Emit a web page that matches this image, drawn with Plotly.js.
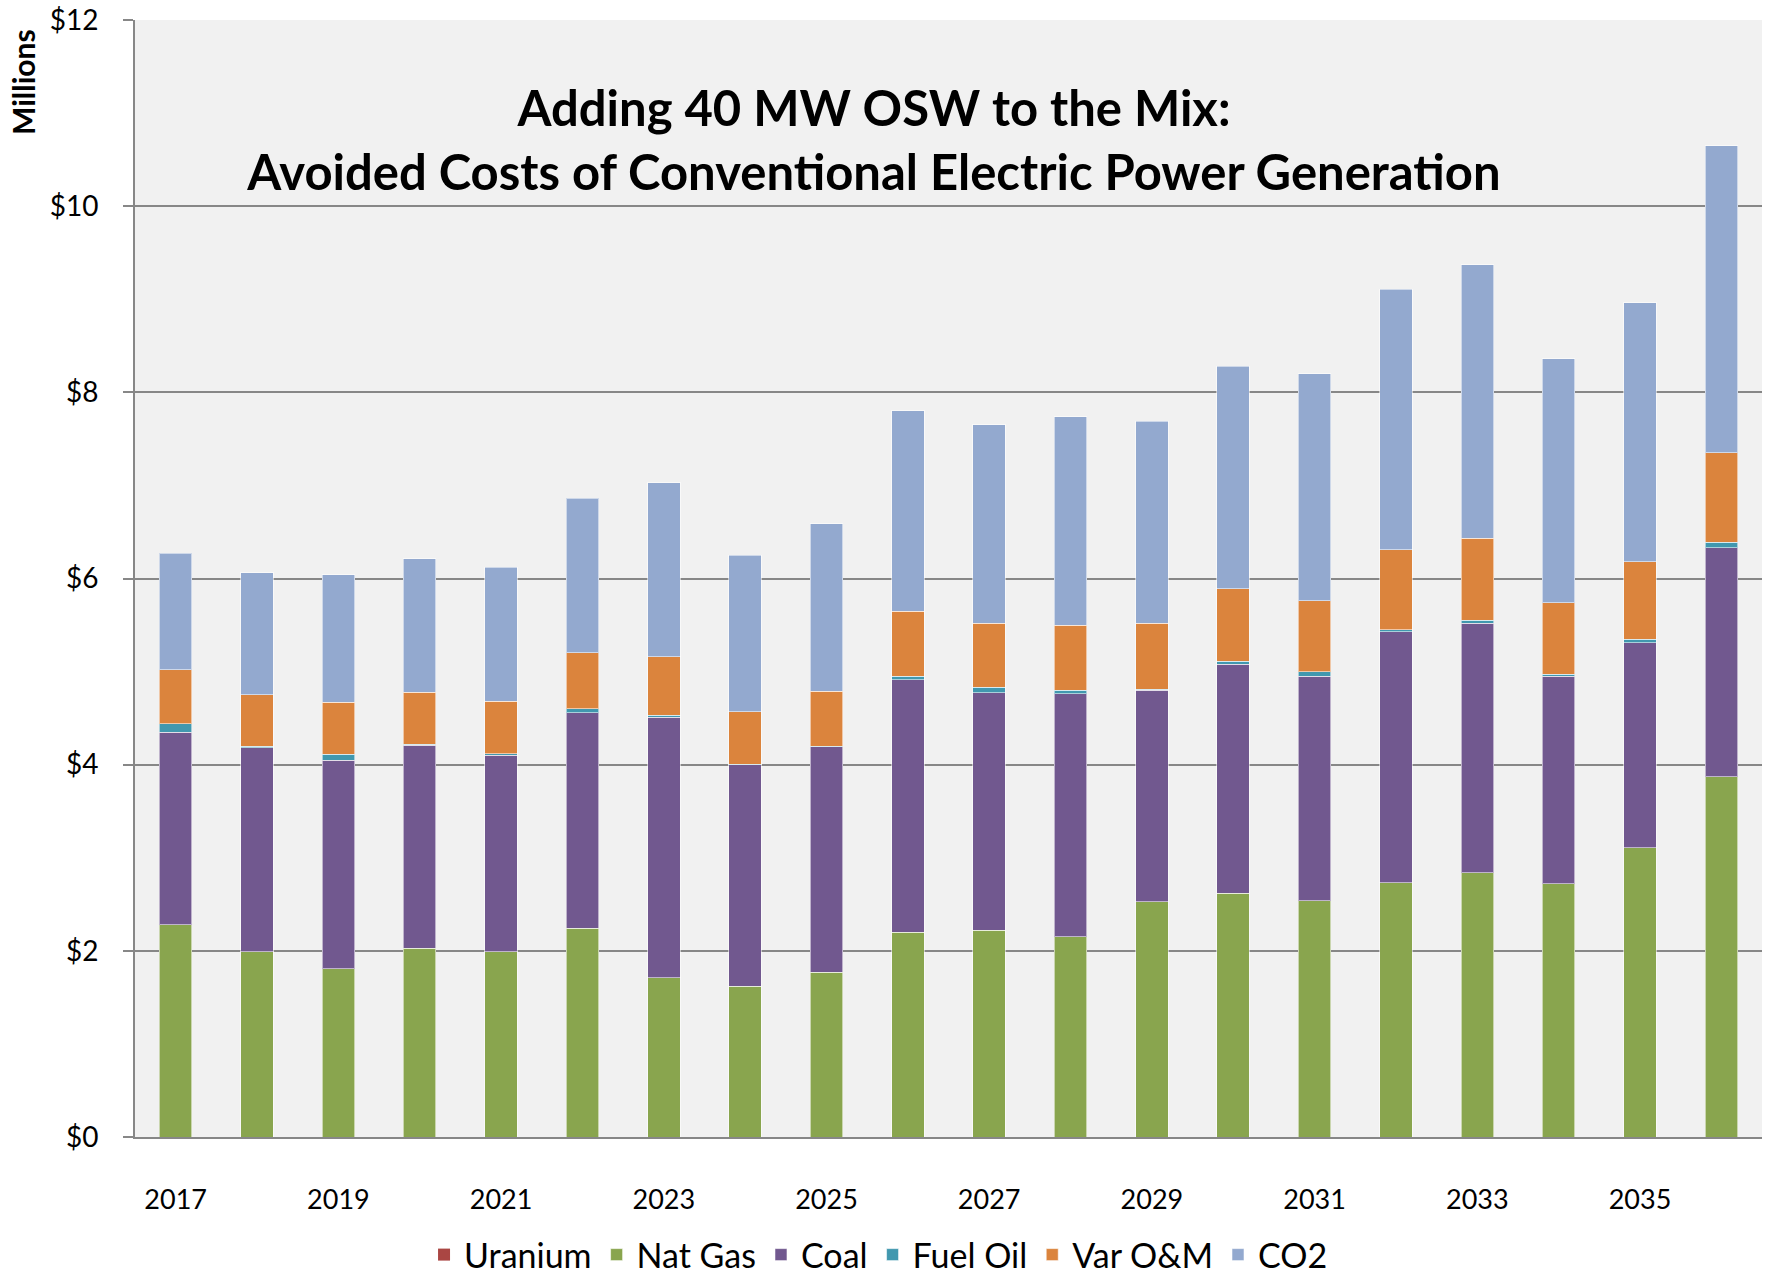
<!DOCTYPE html>
<html>
<head>
<meta charset="utf-8">
<script src="https://cdn.plot.ly/plotly-3.0.1.min.js"></script>
<style>
    body { margin: 0; background: #ffffff; }
    #chart { width: 1776px; height: 1280px; }
</style>
</head>
<body>
<div id="chart"></div>
<script>
// Годы по оси X
const years = ['2017', '2018', '2019', '2020', '2021', '2022', '2023', '2024', '2025', '2026',
               '2027', '2028', '2029', '2030', '2031', '2032', '2033', '2034', '2035', '2036'];
const tickYears = ['2017', '2019', '2021', '2023', '2025', '2027', '2029', '2031', '2033', '2035'];

// Значения, млн $
const uranium = [0, 0, 0, 0, 0, 0, 0, 0, 0, 0, 0, 0, 0, 0, 0, 0, 0, 0, 0, 0];
const natGas  = [2.28, 1.99, 1.81, 2.03, 1.99, 2.24, 1.71, 1.62, 1.77, 2.20,
                 2.22, 2.15, 2.53, 2.62, 2.54, 2.73, 2.84, 2.72, 3.11, 3.87];
const coal    = [2.07, 2.19, 2.24, 2.18, 2.11, 2.32, 2.80, 2.38, 2.42, 2.71,
                 2.55, 2.61, 2.27, 2.46, 2.41, 2.70, 2.68, 2.23, 2.20, 2.46];
const fuelOil = [0.09, 0.02, 0.06, 0.01, 0.02, 0.04, 0.02, 0.005, 0.01, 0.04,
                 0.06, 0.04, 0.01, 0.03, 0.05, 0.02, 0.03, 0.02, 0.04, 0.06];
const varOM   = [0.58, 0.55, 0.56, 0.56, 0.56, 0.60, 0.63, 0.565, 0.59, 0.70,
                 0.69, 0.70, 0.71, 0.78, 0.76, 0.86, 0.88, 0.77, 0.83, 0.96];
const co2     = [1.25, 1.31, 1.37, 1.43, 1.44, 1.66, 1.87, 1.68, 1.80, 2.15,
                 2.13, 2.24, 2.17, 2.39, 2.44, 2.80, 2.94, 2.62, 2.78, 3.30];

const fontName = 'Lato, "Liberation Sans", sans-serif';

function makeTrace(name, values, color) {
    return {
        x: years,
        y: values,
        type: 'bar',
        name: name,
        marker: {
            color: color,
            line: { color: 'rgba(255,255,255,0.55)', width: 1 }
        },
        hoverinfo: 'name+y'
    };
}

function drawChart() {
    let traces = [
        makeTrace('Uranium', uranium, '#AA4643'),
        makeTrace('Nat Gas', natGas, '#89A54E'),
        makeTrace('Coal', coal, '#71588F'),
        makeTrace('Fuel Oil', fuelOil, '#4198AF'),
        makeTrace('Var O&M', varOM, '#DB843D'),
        makeTrace('CO2', co2, '#93A9CF')
    ];
    traces[0].marker.line.width = 0;

    let layout = {
        width: 1776,
        height: 1280,
        barmode: 'stack',
        bargap: 0.6,
        paper_bgcolor: '#ffffff',
        plot_bgcolor: '#F1F1F1',
        margin: { l: 135, r: 14, t: 20, b: 143 },
        font: { family: fontName, color: '#000000', size: 27 },
        title: {
            text: '<b>Adding 40 MW OSW to the Mix:<br>Avoided Costs of Conventional Electric Power Generation</b>',
            font: { family: fontName, size: 49, color: '#000000' },
            x: 874 / 1776,
            xanchor: 'center',
            y: 1 - 126 / 1280,
            yanchor: 'top'
        },
        xaxis: {
            type: 'category',
            tickvals: tickYears,
            ticktext: tickYears,
            ticks: '',
            showgrid: false,
            showline: true,
            linecolor: '#878787',
            linewidth: 2,
            automargin: false,
            ticklabelstandoff: 38,
            tickfont: { size: 27 }
        },
        yaxis: {
            range: [0, 12],
            dtick: 2,
            tickprefix: '$',
            ticks: 'outside',
            ticklen: 10,
            tickcolor: '#878787',
            tickwidth: 2,
            showline: true,
            linecolor: '#878787',
            linewidth: 2,
            gridcolor: '#878787',
            gridwidth: 2,
            zeroline: false,
            automargin: false,
            ticklabelstandoff: 19,
            tickfont: { size: 28 }
        },
        legend: {
            orientation: 'h',
            x: 0.457,
            xanchor: 'center',
            yref: 'container',
            y: 1 - 1255 / 1280,
            yanchor: 'middle',
            font: { size: 34 },
            traceorder: 'normal'
        },
        annotations: [{
            text: '<b>Millions</b>',
            xref: 'paper',
            yref: 'paper',
            x: -112 / 1627,
            y: 1 - 62 / 1117,
            xanchor: 'center',
            yanchor: 'middle',
            textangle: -90,
            showarrow: false,
            font: { family: fontName, size: 30, color: '#000000' }
        }]
    };

    Plotly.newPlot('chart', traces, layout, { displayModeBar: false });
}

document.addEventListener("DOMContentLoaded", function () {
    drawChart();
});
</script>
</body>
</html>
